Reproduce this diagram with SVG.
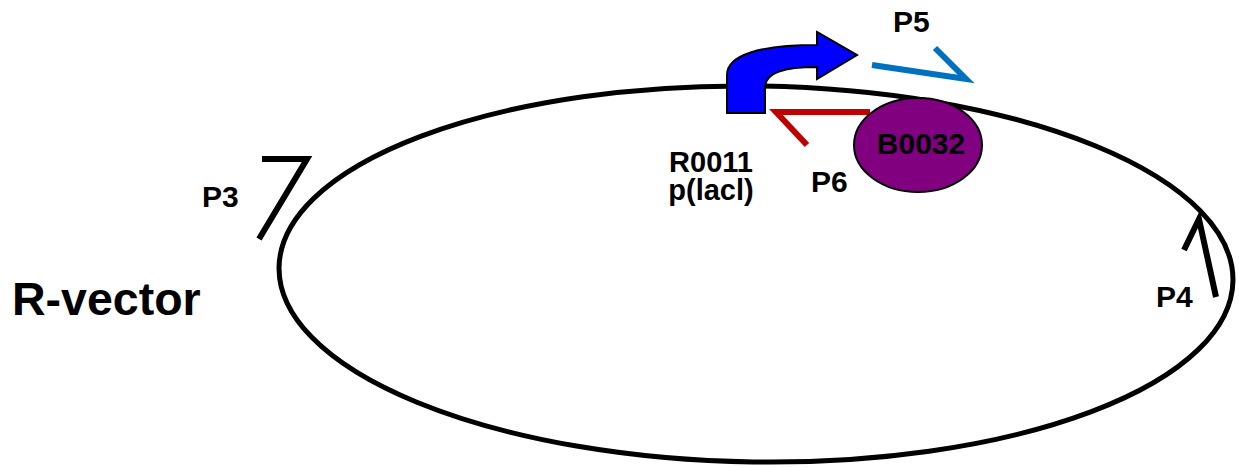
<svg xmlns="http://www.w3.org/2000/svg" width="1239" height="467" viewBox="0 0 1239 467">
  <style>
    .lbl { font-family: "Liberation Sans", Arial, sans-serif; font-weight: bold; fill: #000; }
    .mark { fill: none; stroke-width: 6; stroke-linecap: butt; stroke-linejoin: miter; }
  </style>
  <rect width="1239" height="467" fill="#fff"/>
  <g id="vector">
    <ellipse cx="756" cy="274" rx="477" ry="188" transform="rotate(0.8 756 274)" fill="none" stroke="#000" stroke-width="5"/>
    <text class="lbl" x="12" y="315" font-size="46.5">R-vector</text>
  </g>
  <g id="connectors">
    <polyline id="P6-line" class="mark" points="870,112 776,112 807,145" stroke="#C00000"/>
    <polyline id="P5-line" class="mark" points="872,65 966,79 935,48" stroke="#0070C0"/>
    <polyline id="P3-line" class="mark" points="262,159 307,159 259,239" stroke="#000"/>
    <polyline id="P4-line" class="mark" points="1184,250 1199,219 1216,297" stroke="#000"/>
  </g>
  <g id="R0011">
    <path d="M727,113 L727,75 C727,55 760,45 817,45 L817,32 L857,55 L817,79 L817,67 C785,67 765,72 765,88 L765,113 Z" fill="#0000FF" stroke="#000" stroke-width="2" stroke-linejoin="miter"/>
    <text class="lbl" x="711" y="172" font-size="29" text-anchor="middle">R0011</text>
    <text class="lbl" x="711" y="200" font-size="29" text-anchor="middle">p(lacl)</text>
  </g>
  <g id="B0032">
    <ellipse cx="918" cy="145" rx="64" ry="47" fill="#800080" stroke="#000" stroke-width="2"/>
    <text class="lbl" x="921" y="154" font-size="30" text-anchor="middle">B0032</text>
  </g>
  <g id="P3"><text class="lbl" x="202" y="207" font-size="30">P3</text></g>
  <g id="P4"><text class="lbl" x="1156" y="307" font-size="30">P4</text></g>
  <g id="P5"><text class="lbl" x="893" y="32" font-size="30">P5</text></g>
  <g id="P6"><text class="lbl" x="811" y="192" font-size="30">P6</text></g>
</svg>
